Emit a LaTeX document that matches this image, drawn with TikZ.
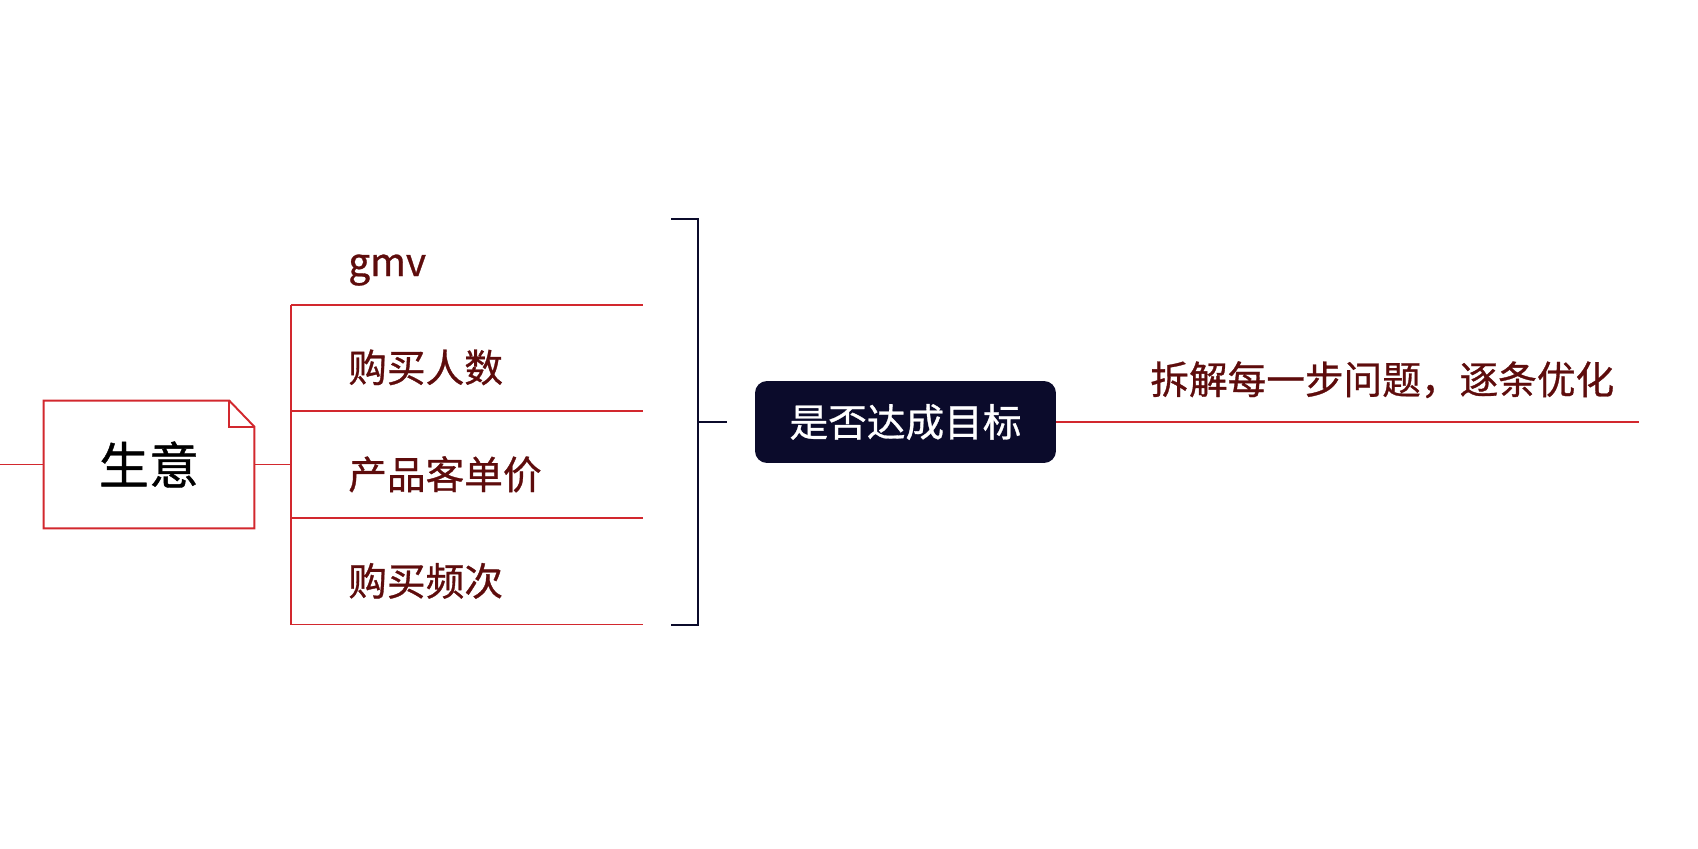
\documentclass[tikz,border=0pt]{standalone}
\usepackage{fontspec}
\setmainfont{Noto Sans CJK SC}[FakeBold=0.8]
\usepackage{tikz}
\usetikzlibrary{calc}
\definecolor{mapred}{HTML}{D2282E}
\definecolor{itemred}{HTML}{5E0C0C}
\definecolor{navy}{HTML}{0B0B2B}

\begin{document}
\begin{tikzpicture}[x=0.02cm,y=-0.02cm]
	\tikzset{
	    branch/.style={mapred,line width=1.1pt},
	    bracket/.style={navy,line width=1.5pt},
	    itemtext/.style={anchor=base west,inner sep=0pt,text=itemred,font=\fontsize{22}{26}\selectfont},
	    goalbox/.style={fill=navy,rounded corners=0.24cm,minimum width=6.02cm,minimum height=1.64cm,
	        inner sep=0pt,text=white,font=\fontsize{22}{26}\selectfont}
	}
	\useasboundingbox (0,0) rectangle (1698,849);
	% business node, a note with a folded corner
	\node[minimum width=4.2cm,minimum height=2.54cm,inner sep=0pt,font=\fontsize{28.5}{32}\selectfont] (biz) at (149,464.5) {生意};
	\draw[branch] (biz.north west) -- ($(biz.north east)+(-25,0)$) -- ($(biz.north east)+(0,26)$)
	    -- (biz.south east) -- (biz.south west) -- cycle;
	\draw[branch] ($(biz.north east)+(-25,0)$) -- ++(0,26) -- ($(biz.north east)+(0,26)$);
	\coordinate (start) at (0,464.5);
	\draw[branch] (start) -- (biz.west);
	\coordinate (hub) at (291,464.5);
	\draw[branch] (biz.east) -- (hub);
	% items with their underlines
	\foreach \name/\txt/\yy in {gmv/gmv/305,buyers/购买人数/411,price/产品客单价/518,freq/购买频次/624.5} {
	    \coordinate (\name-l) at (291,\yy);
	    \coordinate (\name-r) at (643,\yy);
	    \draw[branch] (\name-l) -- (\name-r);
	    \node[itemtext] (\name) at (348,\yy-29) {\txt};
	}
	\draw[branch] (gmv-l) -- (freq-l);
	% bracket round the items
	\coordinate (bt) at (671,219);
	\coordinate (bb) at (671,625);
	\draw[bracket] (bt) -- (698,219) -- (698,625) -- (bb);
	\coordinate (tick) at (727,422);
	\draw[bracket] (698,422) -- (tick);
	% goal and advice
	\node[goalbox] (goal) at (905.5,422) {是否达成目标};
	\coordinate (end) at (1639,422);
	\draw[branch] (goal.east) -- (end);
	\node[itemtext] (advice) at (1150,394) {拆解每一步问题，逐条优化};
\end{tikzpicture}
\end{document}
